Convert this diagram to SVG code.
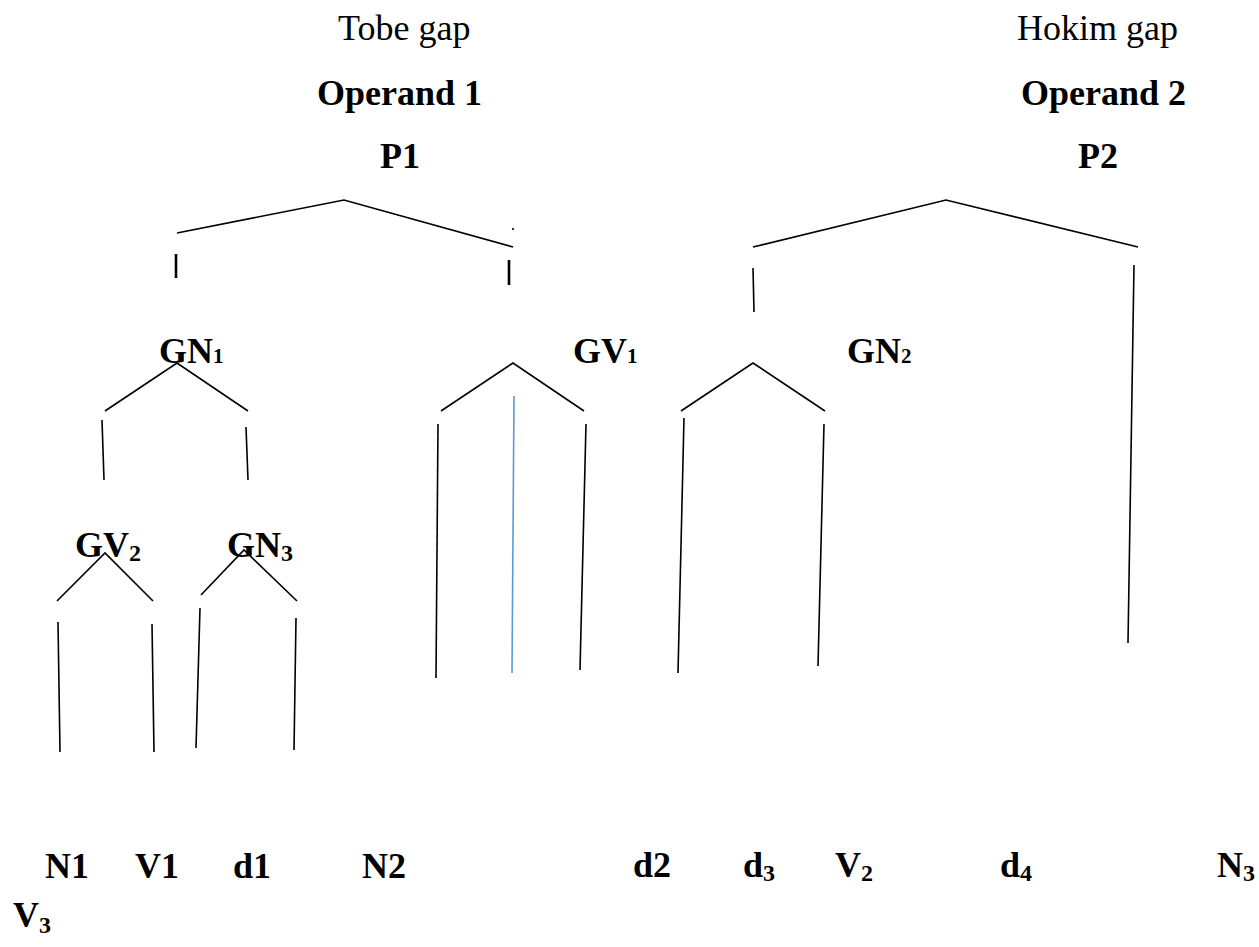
<svg xmlns="http://www.w3.org/2000/svg" width="1259" height="947" viewBox="0 0 1259 947">
<style>
text{font-family:"Liberation Serif","Times New Roman",serif;font-size:36px;fill:#000}
.b{font-weight:bold}
.sub{font-size:24px}
.sm{font-size:21px}
.ln{stroke:#000;stroke-width:1.6;fill:none;stroke-linecap:butt}
.thick{stroke-width:2.6}
.blue{stroke:#5B9BD5;stroke-width:1.6}
</style>
<rect width="1259" height="947" fill="#fff"/>
<g id="connectors">
  <polyline class="ln" points="177,233 344,200 513,247"/>
  <line class="ln" x1="513" y1="228" x2="513" y2="230"/>
  <line class="ln thick" x1="176" y1="254" x2="176" y2="278"/>
  <line class="ln thick" x1="509" y1="260" x2="509" y2="285"/>
  <polyline class="ln" points="753,247 946,200 1138,247"/>
  <line class="ln" x1="753" y1="268" x2="754" y2="312"/>
  <line class="ln" x1="1134" y1="265" x2="1128" y2="643"/>
  <polyline class="ln" points="105,411 177,363 248,411"/>
  <line class="ln" x1="102" y1="420" x2="104" y2="480"/>
  <line class="ln" x1="246" y1="427" x2="248" y2="480"/>
  <polyline class="ln" points="57,601 105,553 153,601"/>
  <polyline class="ln" points="201,595 244,550 297,601"/>
  <line class="ln" x1="58" y1="622" x2="60" y2="752"/>
  <line class="ln" x1="152" y1="624" x2="154" y2="752"/>
  <line class="ln" x1="200" y1="608" x2="196" y2="748"/>
  <line class="ln" x1="296" y1="618" x2="294" y2="750"/>
  <polyline class="ln" points="441,411 513,363 584,411"/>
  <line class="ln" x1="438" y1="424" x2="436" y2="678"/>
  <line class="ln blue" x1="514" y1="396" x2="512" y2="673"/>
  <line class="ln" x1="586" y1="424" x2="580" y2="670"/>
  <polyline class="ln" points="681,411 753,363 825,411"/>
  <line class="ln" x1="684" y1="418" x2="678" y2="673"/>
  <line class="ln" x1="824" y1="424" x2="818" y2="666"/>
</g>
<g id="tobe-gap"><text x="338" y="40">Tobe gap</text></g>
<g id="operand1"><text class="b" x="317" y="105">Operand 1</text></g>
<g id="P1"><text class="b" x="380" y="168">P1</text></g>
<g id="hokim-gap"><text x="1017" y="40">Hokim gap</text></g>
<g id="operand2"><text class="b" x="1021" y="105">Operand 2</text></g>
<g id="P2"><text class="b" x="1078" y="168">P2</text></g>
<g id="GN1"><text class="b" x="159" y="363">GN<tspan class="sm">1</tspan></text></g>
<g id="GV1"><text class="b" x="573" y="363">GV<tspan class="sm">1</tspan></text></g>
<g id="GN2"><text class="b" x="847" y="363">GN<tspan class="sm">2</tspan></text></g>
<g id="GV2"><text class="b" x="75" y="557">GV<tspan class="sub" dy="4">2</tspan></text></g>
<g id="GN3"><text class="b" x="227" y="557">GN<tspan class="sub" dy="4">3</tspan></text></g>
<g id="N1"><text class="b" x="45" y="878">N1</text></g>
<g id="V1"><text class="b" x="135" y="878">V1</text></g>
<g id="d1"><text class="b" x="233" y="878">d1</text></g>
<g id="N2"><text class="b" x="362" y="878">N2</text></g>
<g id="d2"><text class="b" x="633" y="877">d2</text></g>
<g id="d3"><text class="b" x="743" y="877">d<tspan class="sub" dy="4">3</tspan></text></g>
<g id="V2"><text class="b" x="835" y="877">V<tspan class="sub" dy="4">2</tspan></text></g>
<g id="d4"><text class="b" x="1000" y="877">d<tspan class="sub" dy="4">4</tspan></text></g>
<g id="N3"><text class="b" x="1217" y="877">N<tspan class="sub" dy="4">3</tspan></text></g>
<g id="V3"><text class="b" x="13" y="927">V<tspan class="sub" dy="6">3</tspan></text></g>
</svg>
